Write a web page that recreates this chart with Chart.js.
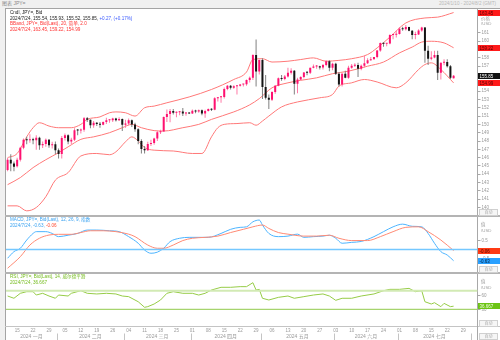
<!DOCTYPE html>
<html lang="zh">
<head>
<meta charset="utf-8">
<title>JPY= 日线</title>
<script src="https://cdn.jsdelivr.net/npm/chart.js@4.4.1/dist/chart.umd.min.js"></script>
<style>
  html, body { margin: 0; padding: 0; }
  body { width: 500px; height: 340px; position: relative; overflow: hidden; background: #f0f0f0;
         font-family: "Liberation Sans", Arial, "Noto Sans CJK SC", sans-serif; }
  #frame { position: absolute; left: 5px; top: 8px; width: 495px; height: 332px; background: #fff;
           border-left: 1px solid #a4a4a4; border-top: 1px solid #a4a4a4; box-sizing: border-box; }
  .rule { position: absolute; background: #b4b4b4; }
  canvas { position: absolute; left: 0; }
  .t { position: absolute; white-space: nowrap; font-size: 4.6px; line-height: 5.6px; }
  .unit { position: absolute; left: 481px; font-size: 4.4px; line-height: 5.6px; color: #a0a0a0; }
  .auto { position: absolute; left: 479px; width: 17px; height: 5px; border: 1px solid #d0d0d0; background: #f6f6f6;
          color: #aaa; font-size: 4px; line-height: 5px; text-align: center; }
</style>
</head>
<body>
<div class="t" style="left:2px;top:1px;font-size:5px;color:#8a8a8a">图表 JPY=</div>
<div class="t" style="right:4px;top:1px;font-size:4.6px;color:#b8b8b8">2024/1/10 - 2024/8/2 (GMT)</div>
<div id="frame"></div>
<div class="rule" style="left:477px;top:8px;width:1px;height:332px;background:#a8a8a8"></div>
<div class="rule" style="left:5px;top:215px;width:495px;height:2px"></div>
<div class="rule" style="left:5px;top:272px;width:495px;height:2px"></div>
<div class="rule" style="left:5px;top:326px;width:495px;height:1px;background:#c4c4c4"></div>

<canvas id="priceChart" width="500" height="207" style="top:8px"></canvas>
<canvas id="macdChart" width="500" height="55" style="top:217px"></canvas>
<canvas id="rsiChart" width="500" height="66" style="top:274px"></canvas>

<div class="t" id="priceHead" style="left:10px;top:10px"></div>
<div class="t" id="macdHead" style="left:10px;top:217.4px"></div>
<div class="t" id="rsiHead" style="left:10px;top:274px"></div>

<div class="unit" style="top:15.5px">价格</div>
<div class="unit" style="top:21.2px">/USD</div>
<div class="unit" style="top:222.2px">值</div>
<div class="unit" style="top:228.2px">/USD</div>
<div class="unit" style="top:279px">值</div>
<div class="unit" style="top:285.2px">/USD</div>
<div class="auto" style="top:208.5px">自动</div>
<div class="auto" style="top:265.5px">自动</div>
<div class="auto" style="top:319.5px">自动</div>
<div class="auto" style="top:333px">自动</div>

<script>
// 横轴：2024/1/10 – 2024/8/2 的交易日（周一至周五），按序号排列
const slotCount = 148;
const firstMonday = 3;   // 1/15
const dayTicks = ['15', '22', '29', '05', '12', '19', '26', '04', '11', '18', '25', '01', '08', '15', '22',
                  '29', '06', '13', '20', '27', '03', '10', '17', '24', '01', '08', '15', '22', '29'];
const monthNames = ['2024 一月', '2024 二月', '2024 三月', '2024 四月', '2024 五月', '2024 六月', '2024 七月'];
const monthStarts = [0, 16, 37, 58, 80, 103, 123, 146];

// 日线 OHLC，1/10 到 7/24
const opens = [
  144.50, 145.75, 145.30, 144.95, 145.75, 147.20, 148.15, 148.10, 148.15, 148.10,
  148.40, 147.50, 147.65, 148.15, 147.50, 147.60, 146.90, 146.45, 148.35, 148.70,
  147.95, 148.15, 149.30, 149.25, 149.35, 150.75, 150.55, 149.90, 150.20, 150.05,
  149.95, 150.30, 150.50, 150.50, 150.70, 150.50, 150.65, 149.95, 150.10, 150.50,
  150.00, 149.40, 148.00, 147.05, 146.90, 147.65, 147.75, 148.30, 149.05, 149.15,
  150.90, 151.25, 151.60, 151.40, 151.45, 151.55, 151.30, 151.35, 151.30, 151.65,
  151.55, 151.70, 151.30, 151.60, 151.85, 151.75, 153.15, 153.25, 153.30, 154.25,
  154.65, 154.40, 154.60, 154.65, 154.80, 154.82, 155.35, 155.60, 158.35, 156.35,
  157.75, 154.50, 153.20, 152.95, 153.90, 154.65, 155.55, 155.45, 155.75, 156.20,
  156.45, 154.90, 155.40, 155.70, 156.25, 156.20, 156.80, 156.95, 157.00, 156.85,
  157.15, 157.60, 156.80, 157.30, 156.10, 154.80, 156.10, 155.60, 156.80, 157.05,
  157.15, 156.70, 157.05, 157.35, 157.70, 157.85, 158.10, 158.90, 159.80, 159.70,
  159.72, 160.75, 160.78, 160.88, 161.50, 161.45, 161.70, 161.25, 160.75, 160.80,
  161.30, 161.65, 158.85, 157.90, 158.05, 158.35, 156.20, 157.40, 157.50, 157.00, 155.54
];
const highs = [
  145.96, 146.40, 145.55, 146.00, 147.30, 148.30, 148.50, 148.80, 148.40, 148.70,
  148.50, 147.95, 148.30, 148.25, 147.90, 147.95, 147.10, 148.60, 148.90, 148.80,
  148.40, 149.55, 149.45, 149.50, 150.90, 150.90, 150.60, 150.40, 150.30, 150.30,
  150.35, 150.80, 150.60, 150.80, 150.80, 150.85, 150.70, 150.55, 150.70, 150.60,
  150.20, 149.55, 148.20, 147.40, 147.90, 148.15, 148.40, 149.20, 149.35, 150.95,
  151.80, 151.85, 151.85, 151.55, 151.60, 151.97, 151.50, 151.45, 151.80, 151.75,
  151.80, 151.80, 151.75, 151.90, 151.95, 153.25, 153.30, 153.40, 154.45, 154.75,
  154.75, 154.70, 154.65, 154.85, 154.85, 155.40, 155.75, 158.45, 160.20, 157.80,
  157.95, 155.95, 153.60, 154.00, 154.75, 155.65, 155.95, 155.95, 156.80, 156.75,
  156.55, 155.60, 155.80, 156.30, 156.40, 156.80, 157.20, 157.15, 157.05, 157.25,
  157.70, 157.70, 157.40, 157.40, 156.30, 156.15, 156.45, 157.05, 157.25, 157.35,
  157.40, 157.20, 158.25, 157.95, 158.10, 158.10, 158.95, 159.85, 159.85, 159.75,
  160.85, 160.90, 161.25, 161.70, 161.75, 161.95, 161.75, 161.35, 161.15, 161.45,
  161.75, 161.70, 159.45, 158.80, 158.85, 158.85, 157.45, 157.85, 157.85, 157.15, 155.93
];
const lows = [
  144.35, 144.35, 144.35, 144.80, 145.55, 147.00, 147.60, 147.80, 147.60, 146.95,
  146.95, 147.15, 147.30, 147.20, 147.10, 146.40, 145.90, 145.90, 148.05, 147.60,
  147.60, 148.00, 148.70, 148.90, 149.10, 150.30, 149.55, 149.60, 149.80, 149.60,
  149.90, 150.05, 150.20, 150.30, 150.35, 150.40, 149.20, 149.60, 149.90, 149.70,
  149.10, 147.60, 146.50, 146.50, 146.80, 147.40, 147.55, 148.00, 148.85, 149.15,
  150.30, 150.25, 151.20, 150.85, 151.10, 151.00, 151.05, 151.25, 151.25, 151.35,
  151.40, 151.10, 150.80, 151.55, 151.60, 151.70, 152.75, 152.60, 153.10, 154.10,
  154.20, 154.30, 153.60, 154.55, 154.55, 154.65, 155.05, 155.35, 154.55, 156.00,
  153.05, 153.00, 151.86, 152.80, 153.70, 154.60, 155.25, 155.30, 155.65, 156.00,
  153.60, 153.75, 155.30, 155.55, 155.90, 156.05, 156.75, 156.70, 156.60, 156.60,
  157.00, 156.40, 156.50, 155.95, 154.55, 154.55, 155.55, 155.50, 156.70, 156.90,
  155.70, 156.50, 156.85, 157.25, 157.65, 157.80, 157.95, 158.75, 159.35, 159.40,
  159.65, 160.25, 160.45, 160.80, 161.25, 161.30, 161.20, 160.25, 160.25, 160.75,
  161.15, 157.40, 157.15, 157.70, 157.95, 155.35, 155.40, 157.10, 156.85, 155.45, 155.52
];
const closes = [
  145.75, 145.30, 144.90, 145.75, 147.20, 148.15, 148.10, 148.15, 148.10, 148.40,
  147.50, 147.65, 148.15, 147.50, 147.60, 146.90, 146.45, 148.35, 148.70, 147.95,
  148.15, 149.30, 149.25, 149.35, 150.75, 150.55, 149.90, 150.20, 150.05, 149.95,
  150.30, 150.50, 150.50, 150.70, 150.50, 150.65, 149.95, 150.10, 150.50, 150.00,
  149.40, 148.00, 147.05, 146.90, 147.65, 147.75, 148.30, 149.05, 149.15, 150.90,
  151.25, 151.60, 151.40, 151.45, 151.55, 151.30, 151.35, 151.30, 151.65, 151.55,
  151.70, 151.30, 151.60, 151.85, 151.75, 153.15, 153.25, 153.30, 154.25, 154.65,
  154.40, 154.60, 154.65, 154.80, 154.82, 155.35, 155.60, 158.35, 156.35, 157.75,
  154.50, 153.20, 152.95, 153.90, 154.65, 155.55, 155.45, 155.75, 156.20, 156.45,
  154.90, 155.40, 155.70, 156.25, 156.20, 156.80, 156.95, 157.00, 156.85, 157.15,
  157.60, 156.80, 157.30, 156.10, 154.80, 156.10, 155.60, 156.80, 157.05, 157.15,
  156.70, 157.05, 157.35, 157.70, 157.85, 158.10, 158.90, 159.80, 159.70, 159.72,
  160.75, 160.78, 160.88, 161.50, 161.45, 161.70, 161.25, 160.75, 160.80, 161.30,
  161.65, 158.85, 157.90, 158.05, 158.35, 156.20, 157.40, 157.50, 157.00, 155.60, 155.85
];
const prevClose = 155.58;

// 布林带 (20, 简单, 2.0)：[交易日序号, 值]
const bbUpper = [[0, 146.0], [3, 146.5], [6, 148.5], [8, 149.6], [10, 150.2], [13, 149.8], [16, 149.6], [20, 149.6],
  [23, 150.0], [25, 150.6], [29, 150.9], [32, 151.4], [34, 151.5], [37, 151.4], [40, 151.0], [43, 152.0], [46, 152.2],
  [50, 152.6], [57, 153.3], [64, 154.2], [71, 155.4], [75, 156.3], [77, 157.8], [80, 157.9], [83, 157.5], [88, 157.6],
  [92, 157.8], [96, 158.0], [100, 157.6], [104, 157.7], [108, 157.9], [113, 158.4], [116, 159.2], [120, 160.5],
  [125, 162.2], [131, 162.8], [135, 162.9], [140, 163.45]];
const bbMiddle = [[0, 142.75], [4, 143.6], [8, 144.8], [12, 145.75], [16, 146.6], [19, 147.3], [23, 148.2], [27, 148.5],
  [32, 149.0], [36, 149.6], [39, 150.0], [42, 149.6], [46, 149.25], [49, 149.2], [55, 149.6], [60, 150.0], [64, 150.6],
  [71, 151.5], [76, 152.35], [79, 153.1], [83, 154.4], [88, 155.0], [92, 155.3], [97, 155.6], [102, 156.1], [107, 156.4],
  [113, 157.0], [118, 157.5], [123, 158.6], [127, 159.3], [130, 159.9], [133, 160.0], [137, 159.8], [140, 159.22]];
const bbLower = [[0, 140.2], [3, 140.2], [6, 139.6], [9, 140.0], [12, 141.3], [15, 143.3], [19, 144.2], [23, 146.2],
  [28, 146.5], [32, 146.35], [34, 146.7], [37, 147.9], [39, 148.5], [41, 148.0], [43, 147.2], [46, 146.9], [52, 146.8],
  [58, 146.5], [61, 146.5], [64, 148.5], [66, 149.6], [68, 150.0], [72, 150.1], [76, 150.2], [78, 149.9], [80, 150.4],
  [82, 151.0], [86, 152.1], [91, 152.7], [98, 153.2], [102, 153.6], [104, 154.6], [108, 155.0], [112, 155.4],
  [116, 155.1], [122, 154.4], [125, 155.0], [129, 156.6], [131, 157.2], [133, 157.4], [136, 156.6], [140, 154.99]];

// MACD (12, 26, 9, 指数)
const macdLine = [[0, -0.49], [2, -0.12], [4, 0.07], [6, 0.53], [8, 0.9], [9, 1.0], [12, 1.0], [14, 0.9], [16, 0.72],
  [19, 0.8], [22, 0.9], [25, 1.09], [28, 1.09], [32, 1.05], [35, 1.0], [38, 0.72], [41, 0.35], [43, -0.03], [45, -0.21],
  [47, -0.15], [49, 0.07], [51, 0.44], [54, 0.63], [57, 0.68], [63, 0.68], [67, 0.9], [70, 1.13], [73, 1.24], [75, 1.27],
  [77, 1.55], [79, 1.65], [80, 1.37], [82, 0.9], [85, 0.72], [88, 0.75], [91, 0.86], [93, 0.68], [96, 0.72], [99, 0.75],
  [101, 0.8], [103, 0.63], [105, 0.35], [108, 0.4], [111, 0.45], [115, 0.72], [118, 1.0], [121, 1.27], [124, 1.42],
  [127, 1.3], [130, 1.27], [132, 0.9], [134, 0.35], [136, -0.12], [138, -0.31], [140, -0.63]];
const signalLine = [[0, -1.05], [4, -0.4], [7, 0.25], [10, 0.63], [13, 0.81], [16, 0.85], [20, 0.85], [23, 0.95],
  [26, 1.05], [30, 1.05], [34, 1.0], [38, 0.86], [40, 0.72], [44, 0.25], [47, 0.07], [49, 0.07], [52, 0.25], [55, 0.5],
  [58, 0.63], [62, 0.68], [66, 0.75], [70, 0.95], [74, 1.13], [77, 1.27], [80, 1.37], [82, 1.18], [85, 0.95], [88, 0.86],
  [93, 0.75], [97, 0.75], [101, 0.8], [104, 0.63], [108, 0.5], [113, 0.5], [117, 0.72], [121, 1.0], [125, 1.24],
  [129, 1.27], [132, 1.0], [136, 0.53], [140, -0.06]];

// RSI (14, 威尔德平滑)
const rsiLine = [[0, 58.6], [2, 53.7], [4, 64.4], [6, 67.9], [8, 67.9], [9, 60.7], [11, 64.4], [13, 58.6], [15, 53.7],
  [16, 60.7], [19, 58.6], [20, 64.4], [23, 70], [25, 64.4], [28, 63], [31, 64.4], [34, 63], [36, 58.6], [38, 57.2],
  [41, 46.3], [43, 34.3], [44, 35.7], [46, 41.4], [48, 50], [50, 64.4], [52, 67.9], [55, 64.4], [58, 64.4], [60, 60.7],
  [62, 64.4], [64, 71.5], [67, 77.3], [70, 77.3], [73, 78.7], [75, 78.7], [77, 87.2], [78, 71.5], [79, 72.9], [80, 53.7],
  [82, 50], [85, 55.7], [88, 58.6], [90, 53.7], [93, 57.2], [96, 60.7], [99, 63], [101, 58.6], [103, 49.3], [105, 53.7],
  [108, 53.7], [111, 58.6], [115, 63], [118, 70], [120, 72.9], [123, 72.9], [126, 75], [128, 67.9], [130, 70],
  [131, 46.3], [133, 41.4], [134, 44.2], [136, 35.7], [137, 42.8], [139, 35.7], [140, 36.667]];

const priceTicks = [140, 141, 142, 143, 144, 145, 146, 147, 148, 149, 150, 151, 152, 153, 154, 157, 158, 160, 161];
const macdTicks = [-0.5, 0.5];
const rsiTicks = [30, 60];
const rsiLevels = [70, 30];

const upColor = '#ff1070';
const downColor = '#141414';
const bandColor = '#ff7878';
const macdColor = '#4cb4ff';
const signalColor = '#ff8a74';
const rsiColor = '#96cc46';
const font = '"Liberation Sans", Arial, "Noto Sans CJK SC", sans-serif';

const last = closes.length - 1;
const lastOf = arr => arr[arr.length - 1][1];
const pts = arr => arr.map(([x, y]) => ({ x, y }));
const flat = v => [{ x: -0.5, y: v }, { x: slotCount - 0.5, y: v }];

// 各面板左上角的说明文字
const fmt2 = v => v.toFixed(2);
const chg = closes[last] - prevClose;
const sign = v => (v >= 0 ? '+' : '') + v.toFixed(2);
document.getElementById('priceHead').innerHTML =
  '<div style="color:#222">Cndl, JPY=, Bid</div>' +
  '<div style="color:#222">2024/7/24, ' + [opens[last], highs[last], lows[last], closes[last]].map(fmt2).join(', ') +
  ', <span style="color:#3b5bff">' + sign(chg) + ', (' + sign(chg / prevClose * 100) + '%)</span></div>' +
  '<div style="color:#ff3030">BBand, JPY=, Bid(Last), 20, 简单, 2.0</div>' +
  '<div style="color:#ff3030">2024/7/24, ' + [lastOf(bbUpper), lastOf(bbMiddle), lastOf(bbLower)].map(fmt2).join(', ') + '</div>';
document.getElementById('macdHead').innerHTML =
  '<div style="color:#3aa2f0">MACD, JPY=, Bid(Last), 12, 26, 9, 指数</div>' +
  '<div style="color:#3aa2f0">2024/7/24, ' + fmt2(lastOf(macdLine)) + ', <span style="color:#ff4a30">' +
  fmt2(lastOf(signalLine)) + '</span></div>';
document.getElementById('rsiHead').innerHTML =
  '<div style="color:#74bb1c">RSI, JPY=, Bid(Last), 14, 威尔德平滑</div>' +
  '<div style="color:#74bb1c">2024/7/24, ' + lastOf(rsiLine).toFixed(3) + '</div>';

// 右侧轴上的数值标签
const valueTags = {
  id: 'valueTags',
  afterDraw(chart, args, opts) {
    const { ctx, scales: { y } } = chart;
    ctx.save();
    ctx.font = '4.5px ' + font;
    ctx.textBaseline = 'middle';
    for (const t of opts.tags || []) {
      const py = Math.round(y.getPixelForValue(t.value));
      ctx.fillStyle = t.bg;
      ctx.fillRect(478, py - 3, 22, 6);
      ctx.fillStyle = t.fg;
      ctx.fillText(t.text, 479.5, py + 0.3);
    }
    ctx.restore();
  }
};

// 底部的日期和月份
const timeAxis = {
  id: 'timeAxis',
  afterDraw(chart) {
    const { ctx, chartArea, scales: { x } } = chart;
    const top = chartArea.bottom;
    ctx.save();
    ctx.fillStyle = '#9a9a9a';
    ctx.textAlign = 'center';
    ctx.textBaseline = 'middle';
    ctx.font = '4.5px ' + font;
    dayTicks.forEach((d, k) => ctx.fillText(d, x.getPixelForValue(firstMonday + 5 * k), top + 5));
    ctx.font = '5px ' + font;
    monthNames.forEach((m, k) => {
      const a = x.getPixelForValue(monthStarts[k] - 0.5);
      const b = x.getPixelForValue(monthStarts[k + 1] - 0.5);
      ctx.fillText(m, (a + b) / 2, top + 10.5);
    });
    ctx.strokeStyle = '#c4c4c4';
    ctx.lineWidth = 1;
    monthStarts.slice(1).forEach(s => {
      const px = Math.round(x.getPixelForValue(s - 0.5)) + 0.5;
      ctx.beginPath();
      ctx.moveTo(px, top + 7.5);
      ctx.lineTo(px, top + 14);
      ctx.stroke();
    });
    ctx.restore();
  }
};

const xAxis = { type: 'linear', min: -0.5, max: slotCount - 0.5, display: false, offset: false };

function rightAxis(min, max, ticks, label) {
  return {
    position: 'right',
    min, max,
    afterBuildTicks: s => { s.ticks = ticks.map(v => ({ value: v })); },
    afterFit: s => { s.width = 22.5; s.paddingTop = 0; s.paddingBottom = 0; },
    grid: { drawOnChartArea: false, drawTicks: true, tickLength: 3, tickColor: '#a8a8a8' },
    border: { color: '#a8a8a8' },
    ticks: { color: '#9a9a9a', padding: 1, font: { size: 4.5, family: font }, callback: label }
  };
}

const baseOptions = {
  responsive: false,
  animation: false,
  devicePixelRatio: 1,
  events: []
};

function line(data, color, width, smooth) {
  return {
    type: 'line', data, borderColor: color, borderWidth: width, pointRadius: 0,
    cubicInterpolationMode: smooth ? 'monotone' : 'default', tension: 0
  };
}

const idx = closes.map((_, i) => i);
const isUp = i => closes[i] >= opens[i];

new Chart(document.getElementById('priceChart'), {
  type: 'bar',
  data: {
    datasets: [
      {
        data: idx.map(i => ({ x: i, y: [opens[i], closes[i]] })),
        backgroundColor: idx.map(i => (isUp(i) ? upColor : downColor)),
        maxBarThickness: 2, minBarLength: 1, grouped: false, order: 1
      },
      {
        data: idx.map(i => ({ x: i, y: [lows[i], highs[i]] })),
        backgroundColor: idx.map(i => (isUp(i) ? '#ff7aa6' : '#808080')),
        maxBarThickness: 1, grouped: false, order: 2
      },
      { ...line(pts(bbUpper), bandColor, 1, true), order: 3 },
      { ...line(pts(bbMiddle), bandColor, 1, true), order: 3 },
      { ...line(pts(bbLower), bandColor, 1, true), order: 3 }
    ]
  },
  options: {
    ...baseOptions,
    layout: { padding: { left: 6, right: 0, top: 0, bottom: 0 } },
    plugins: {
      legend: { display: false },
      tooltip: { enabled: false },
      valueTags: {
        tags: [
          { value: lastOf(bbUpper), text: fmt2(lastOf(bbUpper)), bg: '#ff1a1a', fg: '#5a0000' },
          { value: lastOf(bbMiddle), text: fmt2(lastOf(bbMiddle)), bg: '#ff1a1a', fg: '#5a0000' },
          { value: closes[last], text: fmt2(closes[last]), bg: '#111', fg: '#fff' },
          { value: lastOf(bbLower), text: fmt2(lastOf(bbLower)), bg: '#ff1a1a', fg: '#5a0000' }
        ]
      }
    },
    scales: { x: xAxis, y: rightAxis(139.1, 164.0, priceTicks, v => String(v)) }
  },
  plugins: [valueTags]
});

new Chart(document.getElementById('macdChart'), {
  type: 'line',
  data: {
    datasets: [
      line(flat(0), '#74c8ff', 1.5, false),
      line(pts(signalLine), signalColor, 1, true),
      line(pts(macdLine), macdColor, 1, true)
    ]
  },
  options: {
    ...baseOptions,
    layout: { padding: { left: 6, right: 0, top: 0, bottom: 0 } },
    plugins: {
      legend: { display: false },
      tooltip: { enabled: false },
      valueTags: {
        tags: [
          { value: lastOf(signalLine), text: fmt2(lastOf(signalLine)), bg: '#ff3a14', fg: '#4a0a00' },
          { value: lastOf(macdLine), text: fmt2(lastOf(macdLine)), bg: '#2aa0ff', fg: '#04223a' }
        ]
      }
    },
    scales: { x: xAxis, y: rightAxis(-1.26, 1.82, macdTicks, v => v.toFixed(1)) }
  },
  plugins: [valueTags]
});

new Chart(document.getElementById('rsiChart'), {
  type: 'line',
  data: {
    datasets: [
      line(flat(rsiLevels[0]), '#d2eab4', 2, false),
      line(flat(rsiLevels[1]), '#a6d46e', 1.2, false),
      line(pts(rsiLine), rsiColor, 1, false)
    ]
  },
  options: {
    ...baseOptions,
    layout: { padding: { left: 6, right: 0, top: 0, bottom: 14 } },
    plugins: {
      legend: { display: false },
      tooltip: { enabled: false },
      valueTags: {
        tags: [{ value: lastOf(rsiLine), text: lastOf(rsiLine).toFixed(3), bg: '#6cc414', fg: '#f4ffe8' }]
      }
    },
    scales: { x: xAxis, y: rightAxis(-5.9, 105.9, rsiTicks, v => String(v)) }
  },
  plugins: [valueTags, timeAxis]
});
</script>
</body>
</html>
